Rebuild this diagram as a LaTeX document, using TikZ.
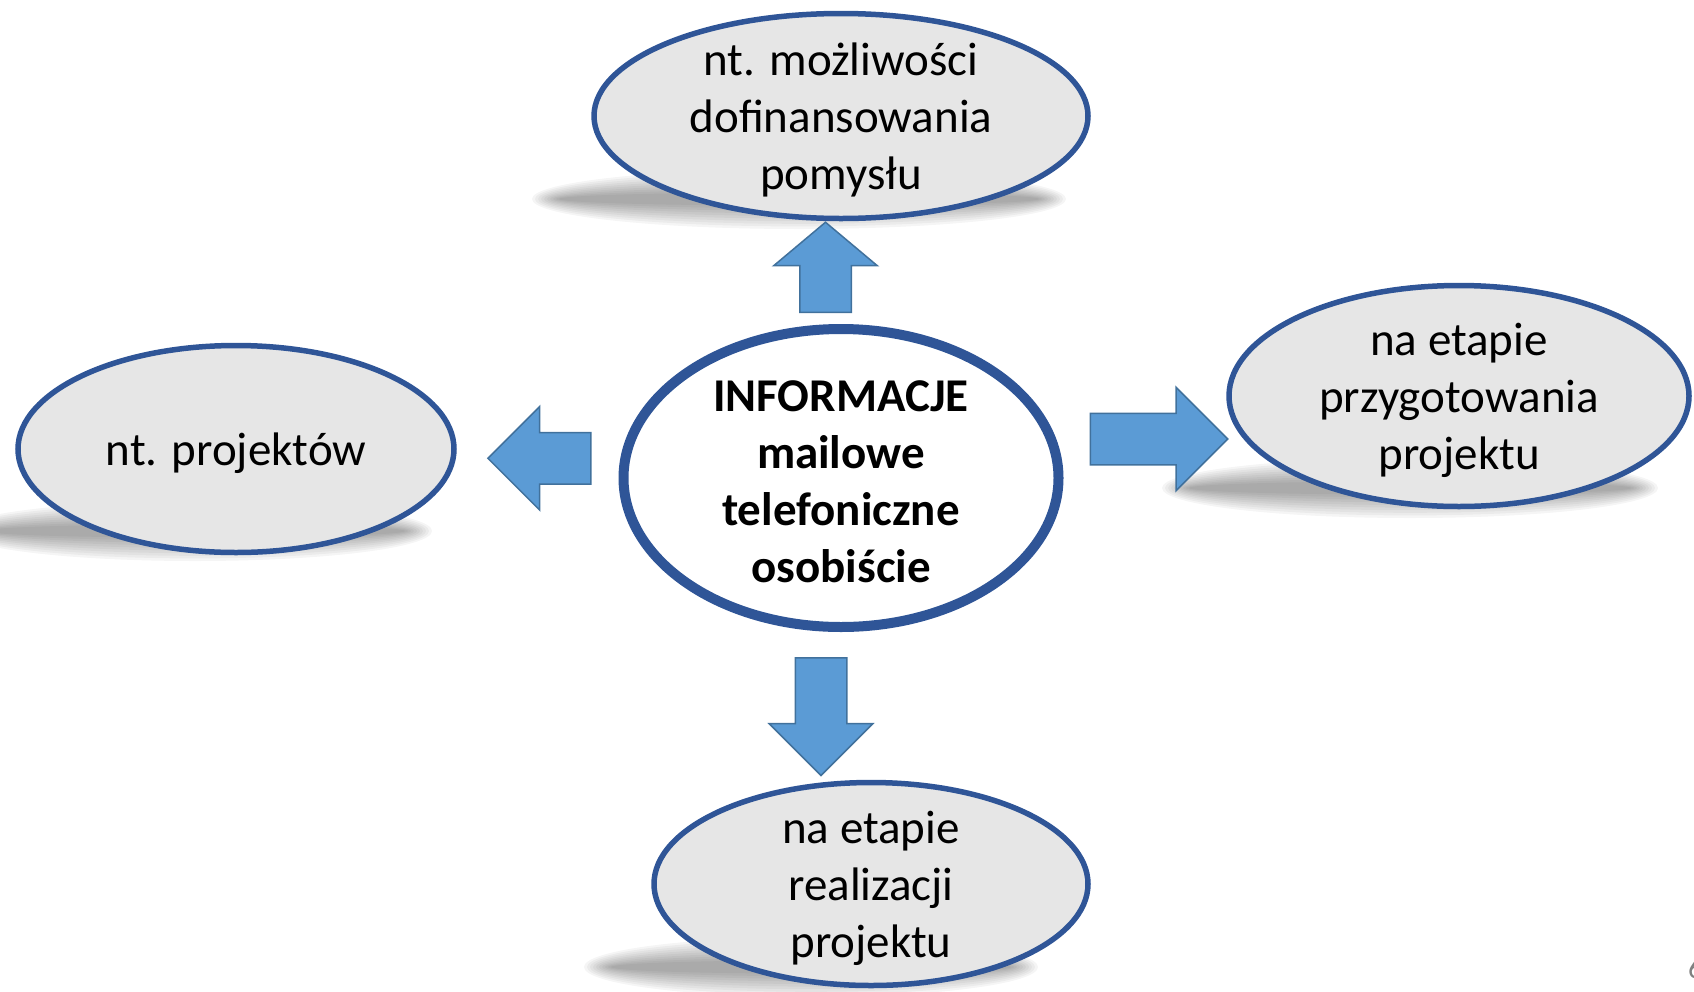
\documentclass[tikz,border=0pt]{standalone}
\usepackage{fontspec}
\setmainfont{Carlito}
\usetikzlibrary{shapes.geometric,shapes.arrows}

\definecolor{bubbleblue}{HTML}{2F5597}
\definecolor{bubblegray}{HTML}{E6E6E6}
\definecolor{arrowfill}{HTML}{5B9BD5}
\definecolor{arrowline}{HTML}{41719C}

\begin{document}
\begin{tikzpicture}[
        x=1pt, y=-1pt,
        bubble/.style={ellipse, draw=bubbleblue, line width=5.5pt, fill=bubblegray, inner sep=0pt},
        hub/.style={ellipse, draw=bubbleblue, line width=10pt, fill=white, inner sep=0pt},
        bubtext/.style={align=center, inner sep=0pt, yshift=-4pt, font=\fontsize{47}{57}\selectfont},
        blockarrow/.style={single arrow, draw=arrowline, line width=1.5pt, fill=arrowfill,
            inner sep=25pt, single arrow head extend=26pt,
            single arrow tip angle=90, anchor=tail}
    ]
    \useasboundingbox (0,0) rectangle (1694,991);

    % Shadows
    \foreach \cx/\cy/\rx in {799/199/252, 195/531/222, 1410/488/233, 811/967/212}
        \foreach \k in {0,...,9}
            \fill[black, opacity=0.04] (\cx,\cy) ellipse [x radius={(\rx+15-3*\k)*1pt}, y radius={(30-2.6*\k)*1pt}];

    % Bubbles
    \node (pomysl) [bubble, minimum width=494pt, minimum height=205pt] at (841,116) {};
    \node (projekty) [bubble, minimum width=436pt, minimum height=207pt] at (236,449) {};
    \node (przygotowanie) [bubble, minimum width=460pt, minimum height=221pt] at (1459,396) {};
    \node (realizacja) [bubble, minimum width=434pt, minimum height=203pt] at (871,884) {};
    \node (info) [hub, minimum width=435pt, minimum height=298pt] at (841,478) {};

    % Arrows
    \node (arrup) [blockarrow, shape border rotate=90, single arrow tip angle=100, minimum height=90pt] at (825.5,313) {};
    \node (arrleft) [blockarrow, shape border rotate=180, minimum height=103pt] at (591.7,458.3) {};
    \node (arrright) [blockarrow, minimum height=137.5pt] at (1089.5,439) {};
    \node (arrdown) [blockarrow, shape border rotate=270, minimum height=117.7pt] at (821,657) {};

    % Texts
    \node (pomysltxt) [bubtext] at (pomysl) {nt. możliwości\\dofinansowania\\pomysłu};
    \node (projektytxt) [bubtext] at (projekty) {nt. projektów};
    \node (przygotowanietxt) [bubtext] at (przygotowanie) {na etapie\\przygotowania\\projektu};
    \node (realizacjatxt) [bubtext] at (realizacja) {na etapie\\realizacji\\projektu};
    \node (infotxt) [bubtext, font=\fontsize{47}{57}\selectfont\bfseries] at (info) {INFORMACJE\\mailowe\\telefoniczne\\osobiście};

    \node (slidenum) [anchor=base west, inner sep=0pt, text=gray, font=\fontsize{30}{36}\selectfont] at (1688,978) {6};
\end{tikzpicture}
\end{document}
